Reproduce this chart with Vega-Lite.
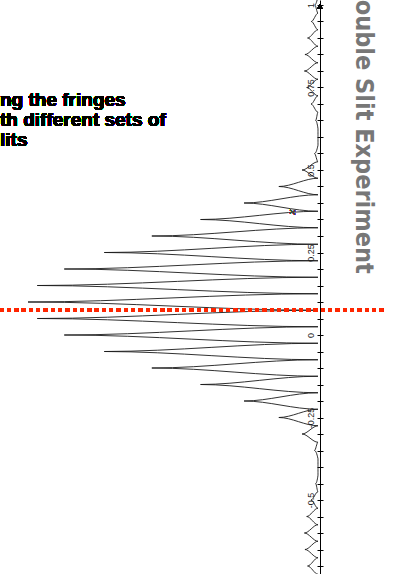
{
  "$schema": "https://vega.github.io/schema/vega-lite/v6.json",
  "width": 398,
  "height": 574,
  "autosize": "none",
  "padding": 0,
  "background": "white",
  "config": {"view": {"stroke": null}},
  "title": {
    "text": "Double Slit Experiment",
    "orient": "right",
    "anchor": "start",
    "frame": "group",
    "offset": -47,
    "dx": -19,
    "font": "DejaVu Sans Condensed",
    "fontSize": 25,
    "fontWeight": "bold",
    "color": "#777777"
  },
  "data": {
    "values": [
      {"x": -0.775, "I": 0}, {"x": -0.75, "I": 0.023}, {"x": -0.725, "I": 0}, {"x": -0.7, "I": 0.036},
      {"x": -0.675, "I": 0}, {"x": -0.65, "I": 0.045}, {"x": -0.625, "I": 0}, {"x": -0.6, "I": 0.047},
      {"x": -0.575, "I": 0}, {"x": -0.55, "I": 0.039}, {"x": -0.525, "I": 0}, {"x": -0.5, "I": 0.024},
      {"x": -0.475, "I": 0}, {"x": -0.45, "I": 0.008}, {"x": -0.425, "I": 0}, {"x": -0.4, "I": 0},
      {"x": -0.375, "I": 0}, {"x": -0.35, "I": 0.012}, {"x": -0.325, "I": 0}, {"x": -0.3, "I": 0.055},
      {"x": -0.275, "I": 0}, {"x": -0.25, "I": 0.135}, {"x": -0.225, "I": 0}, {"x": -0.2, "I": 0.255},
      {"x": -0.175, "I": 0}, {"x": -0.15, "I": 0.405}, {"x": -0.125, "I": 0}, {"x": -0.1, "I": 0.573},
      {"x": -0.075, "I": 0}, {"x": -0.05, "I": 0.737}, {"x": -0.025, "I": 0}, {"x": 0, "I": 0.875},
      {"x": 0.025, "I": 0}, {"x": 0.05, "I": 0.968}, {"x": 0.075, "I": 0}, {"x": 0.1, "I": 1},
      {"x": 0.125, "I": 0}, {"x": 0.15, "I": 0.968}, {"x": 0.175, "I": 0}, {"x": 0.2, "I": 0.875},
      {"x": 0.225, "I": 0}, {"x": 0.25, "I": 0.737}, {"x": 0.275, "I": 0}, {"x": 0.3, "I": 0.573},
      {"x": 0.325, "I": 0}, {"x": 0.35, "I": 0.405}, {"x": 0.375, "I": 0}, {"x": 0.4, "I": 0.255},
      {"x": 0.425, "I": 0}, {"x": 0.45, "I": 0.135}, {"x": 0.475, "I": 0}, {"x": 0.5, "I": 0.055},
      {"x": 0.525, "I": 0}, {"x": 0.55, "I": 0.012}, {"x": 0.575, "I": 0}, {"x": 0.6, "I": 0},
      {"x": 0.625, "I": 0}, {"x": 0.65, "I": 0.008}, {"x": 0.675, "I": 0}, {"x": 0.7, "I": 0.024},
      {"x": 0.725, "I": 0}, {"x": 0.75, "I": 0.039}, {"x": 0.775, "I": 0}, {"x": 0.8, "I": 0.047},
      {"x": 0.825, "I": 0}, {"x": 0.85, "I": 0.045}, {"x": 0.875, "I": 0}, {"x": 0.9, "I": 0.036},
      {"x": 0.925, "I": 0}, {"x": 0.95, "I": 0.023}, {"x": 0.975, "I": 0}, {"x": 1.0, "I": 0.011},
      {"x": 1.025, "I": 0}
    ]
  },
  "resolve": {"axis": {"y": "independent"}},
  "layer": [
    {
      "mark": {"type": "line", "orient": "horizontal", "interpolate": "monotone", "color": "#1a1a1a", "strokeWidth": 0.9},
      "encoding": {
        "y": {
          "field": "x", "type": "quantitative",
          "scale": {"domain": [-0.72424, 1.01515], "nice": false, "zero": false},
          "axis": {
            "orient": "left", "offset": -320, "title": null, "grid": false,
            "values": [-0.75, -0.7, -0.65, -0.6, -0.55, -0.5, -0.45, -0.4, -0.35, -0.3, -0.25, -0.2, -0.15, -0.1, -0.05, 0, 0.05, 0.1, 0.15, 0.2, 0.25, 0.3, 0.35, 0.4, 0.45, 0.5, 0.55, 0.6, 0.65, 0.7, 0.75, 0.8, 0.85, 0.9, 0.95, 1],
            "labelExpr": "abs(datum.value*4 - round(datum.value*4)) < 0.001 ? '' + datum.value : ''",
            "labelAngle": -90, "labelPadding": 2, "labelFontSize": 9, "labelFont": "Liberation Sans",
            "labelColor": "#222222", "labelFlush": false, "labelOverlap": false,
            "tickSize": 3, "tickColor": "#000000", "domainColor": "#000000", "domainWidth": 1
          }
        },
        "x": {
          "field": "I", "type": "quantitative",
          "scale": {"domain": [-0.2759, 1.0966], "reverse": true, "nice": false, "zero": false},
          "axis": null
        }
      }
    },
    {
      "mark": {"type": "line", "orient": "horizontal", "strokeOpacity": 0},
      "encoding": {
        "y": {
          "field": "x", "type": "quantitative",
          "scale": {"domain": [-0.72424, 1.01515], "nice": false, "zero": false},
          "axis": {
            "orient": "right", "offset": -78, "title": null, "grid": false, "labels": false, "domain": false,
            "values": [-0.75, -0.7, -0.65, -0.6, -0.55, -0.5, -0.45, -0.4, -0.35, -0.3, -0.25, -0.2, -0.15, -0.1, -0.05, 0, 0.05, 0.1, 0.15, 0.2, 0.25, 0.3, 0.35, 0.4, 0.45, 0.5, 0.55, 0.6, 0.65, 0.7, 0.75, 0.8, 0.85, 0.9, 0.95, 1],
            "tickSize": 3, "tickColor": "#000000"
          }
        },
        "x": {
          "field": "I", "type": "quantitative",
          "scale": {"domain": [-0.2759, 1.0966], "reverse": true, "nice": false, "zero": false},
          "axis": null
        }
      }
    },
    {
      "mark": {"type": "rule", "color": "#ff2600", "strokeWidth": 3, "strokeDash": [3.5, 3.8], "strokeCap": "butt"},
      "encoding": {
        "y": {"datum": 0.0758, "type": "quantitative", "axis": null},
        "x": {"datum": 1.0966, "type": "quantitative", "axis": null},
        "x2": {"datum": -0.2345}
      }
    },
    {
      "mark": {"type": "point", "shape": "triangle-up", "filled": true, "color": "#000000", "size": 30, "opacity": 1},
      "encoding": {
        "y": {"datum": 0.995, "type": "quantitative", "axis": null},
        "x": {"datum": -0.0069, "type": "quantitative", "axis": null}
      }
    },
    {
      "mark": {
        "type": "text", "text": ["ng the fringes", "th different sets of", "lits"],
        "align": "left", "baseline": "alphabetic", "lineHeight": 20,
        "font": "Liberation Sans", "fontSize": 19, "fontWeight": "bold", "color": "#000000"
      },
      "encoding": {
        "y": {"datum": 0.694, "type": "quantitative", "axis": null},
        "x": {"datum": 1.0966, "type": "quantitative", "axis": null}
      }
    },
    {
      "mark": {"type": "text", "text": "x", "font": "Liberation Serif", "fontStyle": "italic", "fontSize": 11, "color": "#444444", "angle": 270},
      "encoding": {
        "y": {"datum": 0.3727, "type": "quantitative", "axis": null},
        "x": {"datum": 0.0897, "type": "quantitative", "axis": null}
      }
    }
  ]
}
